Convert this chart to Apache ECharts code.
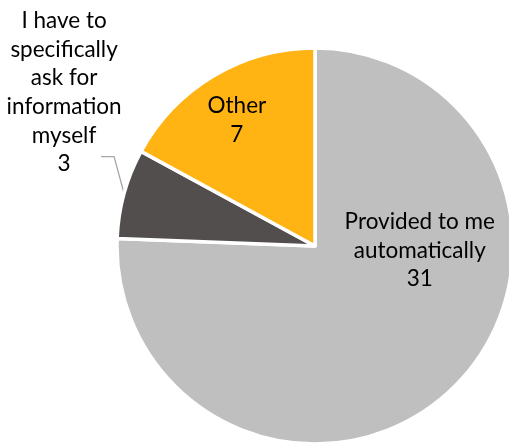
<!DOCTYPE html>
<html>
<head>
<meta charset="utf-8">
<script src="https://cdn.jsdelivr.net/npm/echarts@6/dist/echarts.min.js"></script>
<style>
  html, body { margin: 0; padding: 0; background: #ffffff; }
  #chart { width: 509px; height: 445px; }
</style>
</head>
<body>
<div id="chart"></div>
<script>
// Survey answers: how information reaches the respondent
const categories = [
  'Provided to me\nautomatically',
  'I have to\nspecifically\nask for\ninformation\nmyself',
  'Other'
];
const counts = [31, 3, 7];
const sliceColors = ['#BFBFBF', '#524E4D', '#FFB414'];

const chart = echarts.init(document.getElementById('chart'), null, { renderer: 'canvas' });

const FONT = 'Lato, "Open Sans", sans-serif';
const baseLabel = {
  fontFamily: FONT,
  fontSize: 22.5,
  lineHeight: 28.7,
  color: '#000000',
  align: 'center',
  formatter: p => p.name + '\n' + p.value
};

const data = categories.map((name, i) => ({
  name: name,
  value: counts[i],
  itemStyle: { color: sliceColors[i] }
}));
// label placement for each slice
data[0].label = Object.assign({}, baseLabel, { position: 'inside', offset: [34, -69] });
data[0].labelLine = { show: false };
data[1].label = Object.assign({}, baseLabel, { position: 'outside' });
data[1].labelLine = { show: true, length: 20, length2: 12, lineStyle: { color: '#A6A6A6', width: 1.3 } };
data[2].label = Object.assign({}, baseLabel, { position: 'inside', offset: [-26, -38] });
data[2].labelLine = { show: false };

chart.setOption({
  animation: false,
  backgroundColor: '#ffffff',
  series: [{
    type: 'pie',
    center: [315, 246],
    radius: 198,
    startAngle: 90,
    clockwise: true,
    avoidLabelOverlap: false,
    itemStyle: { borderColor: '#ffffff', borderWidth: 3.5 },
    emphasis: { disabled: true },
    labelLayout: function (params) {
      if (params.dataIndex !== 1 || !params.labelLinePoints) return {};
      const p0 = params.labelLinePoints[0];
      const p1 = [p0[0] - 10, p0[1] - 37];
      const p2 = [p1[0] - 13, p1[1]];
      return {
        x: p2[0] - 37,
        y: p2[1] + 22,
        align: 'center',
        verticalAlign: 'bottom',
        labelLinePoints: [p0, p1, p2]
      };
    },
    data: data
  }]
});
</script>
</body>
</html>
